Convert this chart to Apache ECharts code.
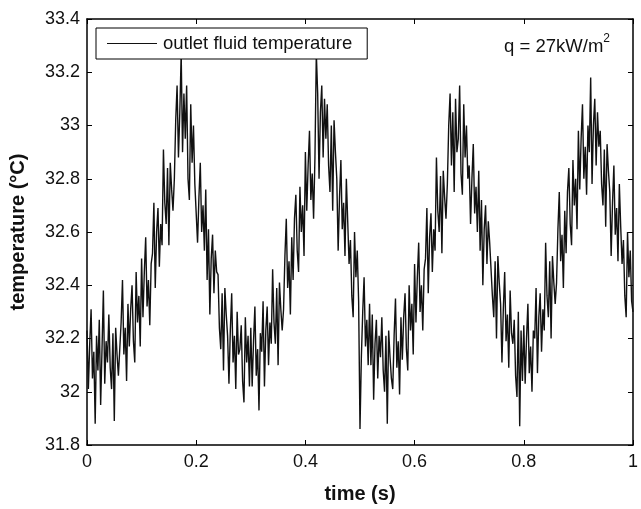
<!DOCTYPE html>
<html>
<head>
<meta charset="utf-8">
<script src="https://cdn.jsdelivr.net/npm/echarts@6/dist/echarts.min.js"></script>
<style>html,body{margin:0;padding:0;background:#fff}#c{width:641px;height:509px}</style>
</head>
<body>
<div id="c"></div>
<script>
const seriesName = 'outlet fluid temperature';
const sampleInterval = 0.0025; // s
const xTicks = [0, 0.2, 0.4, 0.6, 0.8, 1];
const yTicks = [31.8, 32, 32.2, 32.4, 32.6, 32.8, 33, 33.2, 33.4];
const temperature = [
  32.23, 32.01, 32.18, 32.31, 32.05, 32.15, 31.88, 32.21,
  32.08, 32.27, 31.95, 32.16, 32.38, 32.03, 32.19, 32.11,
  32.29, 32.09, 32.01, 32.22, 31.89, 32.24, 32.14, 32.06,
  32.06, 32.26, 32.42, 32.14, 32.24, 32.04, 32.33, 32.17,
  32.31, 32.40, 32.19, 32.11, 32.45, 32.26, 32.36, 32.17,
  32.50, 32.28, 32.45, 32.58, 32.32, 32.42, 32.25, 32.48,
  32.52, 32.71, 32.39, 32.60, 32.69, 32.47, 32.63, 32.55,
  32.91, 32.71, 32.63, 32.84, 32.55, 32.86, 32.76, 32.68,
  32.80, 33.02, 33.15, 32.88, 33.05, 33.27, 32.90, 33.12,
  32.95, 33.15, 32.80, 32.72, 33.08, 32.86, 33.00, 32.78,
  32.78, 32.56, 32.73, 32.86, 32.60, 32.70, 32.53, 32.76,
  32.42, 32.61, 32.29, 32.50, 32.59, 32.37, 32.53, 32.45,
  32.44, 32.24, 32.16, 32.37, 32.08, 32.39, 32.29, 32.21,
  32.03, 32.23, 32.37, 32.11, 32.21, 32.01, 32.30, 32.14,
  32.16, 32.25, 32.04, 31.96, 32.28, 32.11, 32.21, 32.02,
  32.24, 32.02, 32.19, 32.32, 32.06, 32.16, 31.93, 32.22,
  32.15, 32.34, 32.02, 32.23, 32.32, 32.10, 32.26, 32.18,
  32.46, 32.26, 32.18, 32.39, 32.10, 32.41, 32.31, 32.23,
  32.31, 32.51, 32.65, 32.39, 32.49, 32.29, 32.58, 32.42,
  32.65, 32.74, 32.53, 32.45, 32.77, 32.60, 32.70, 32.51,
  32.90, 32.68, 32.85, 32.98, 32.72, 32.82, 32.65, 32.88,
  33.27, 33.12, 32.80, 33.05, 33.15, 32.88, 33.10, 32.95,
  33.08, 32.85, 32.75, 33.00, 32.68, 33.02, 32.90, 32.80,
  32.53, 32.73, 32.87, 32.61, 32.71, 32.51, 32.80, 32.64,
  32.48, 32.57, 32.36, 32.28, 32.60, 32.43, 32.53, 32.34,
  31.86, 32.13, 32.30, 32.43, 32.17, 32.27, 32.10, 32.33,
  32.10, 32.29, 31.97, 32.18, 32.27, 32.05, 32.21, 32.13,
  32.28, 32.08, 32.00, 32.21, 31.88, 32.23, 32.13, 32.05,
  32.01, 32.21, 32.35, 32.09, 32.19, 31.99, 32.28, 32.12,
  32.28, 32.37, 32.16, 32.08, 32.40, 32.23, 32.33, 32.14,
  32.48, 32.26, 32.43, 32.56, 32.30, 32.40, 32.23, 32.46,
  32.50, 32.69, 32.37, 32.58, 32.67, 32.45, 32.61, 32.53,
  32.88, 32.68, 32.60, 32.81, 32.52, 32.83, 32.73, 32.65,
  32.78, 33.00, 33.12, 32.85, 33.05, 32.75, 33.10, 32.90,
  32.95, 33.15, 32.82, 32.74, 33.08, 32.88, 33.00, 32.80,
  32.85, 32.63, 32.80, 32.93, 32.67, 32.77, 32.60, 32.83,
  32.53, 32.72, 32.40, 32.61, 32.70, 32.48, 32.64, 32.56,
  32.56, 32.36, 32.28, 32.49, 32.20, 32.51, 32.41, 32.33,
  32.11, 32.31, 32.45, 32.19, 32.29, 32.09, 32.38, 32.22,
  32.18, 32.27, 32.06, 31.98, 32.30, 31.87, 32.23, 32.04,
  32.25, 32.03, 32.20, 32.33, 32.07, 32.17, 32.00, 32.23,
  32.20, 32.39, 32.07, 32.28, 32.37, 32.15, 32.31, 32.23,
  32.56, 32.36, 32.28, 32.49, 32.20, 32.51, 32.41, 32.33,
  32.41, 32.61, 32.75, 32.49, 32.59, 32.39, 32.68, 32.52,
  32.75, 32.84, 32.63, 32.55, 32.87, 32.70, 32.80, 32.61,
  32.98, 32.76, 32.95, 33.08, 32.80, 32.92, 32.74, 33.00,
  32.90, 33.18, 32.78, 33.00, 33.10, 32.85, 33.05, 32.92,
  32.98, 32.78, 32.70, 32.91, 32.62, 32.93, 32.83, 32.75,
  32.51, 32.71, 32.85, 32.59, 32.69, 32.49, 32.78, 32.62,
  32.48, 32.57, 32.36, 32.28, 32.60, 32.43, 32.53, 32.34,
  32.30
];
const annotation = 'q = 27kW/m';
const annotationSup = '2';

const points = temperature.map((v, i) => [+(i * sampleInterval).toFixed(4), v]);
const FONT = 'Liberation Sans, Arial, Helvetica, sans-serif';
const axisCommon = {
  axisLine: { show: true, onZero: false, lineStyle: { color: '#000', width: 1.5 } },
  axisTick: { show: true, inside: true, length: 5, lineStyle: { color: '#000', width: 1 } },
  splitLine: { show: false }
};
const chart = echarts.init(document.getElementById('c'), null, { renderer: 'canvas' });
chart.setOption({
  animation: false,
  backgroundColor: '#fff',
  grid: { left: 87, right: 4, top: 19, bottom: 57, containLabel: false },
  legend: {
    data: [{ name: seriesName, icon: 'rect' }],
    left: 96, top: 28,
    orient: 'horizontal',
    backgroundColor: '#fff',
    borderColor: '#000', borderWidth: 1, borderRadius: 0,
    padding: [6, 15, 6, 11],
    itemWidth: 50, itemHeight: 1, itemGap: 8,
    itemStyle: { color: '#111', borderWidth: 0 },
    textStyle: { fontFamily: FONT, fontSize: 18.5, color: '#111', padding: [0, 0, 0, 1] }
  },
  title: {
    text: '{a|' + annotation + '}{s|' + annotationSup + '}',
    right: 26, top: 28,
    textStyle: {
      rich: {
        a: { fontFamily: FONT, fontSize: 18.5, fontWeight: 'normal', color: '#111' },
        s: { fontFamily: FONT, fontSize: 12, fontWeight: 'normal', color: '#111', padding: [0, 0, 15, 0] }
      }
    }
  },
  xAxis: [
    Object.assign({
      type: 'value', min: xTicks[0], max: xTicks[xTicks.length - 1], interval: 0.2,
      position: 'bottom',
      name: 'time (s)', nameLocation: 'middle', nameGap: 39,
      nameTextStyle: { fontFamily: FONT, fontSize: 20, fontWeight: 'bold', color: '#111' },
      axisLabel: { show: true, margin: 8, fontFamily: FONT, fontSize: 18, color: '#111',
        formatter: v => String(+v.toFixed(1)) }
    }, axisCommon),
    Object.assign({
      type: 'value', min: xTicks[0], max: xTicks[xTicks.length - 1], interval: 0.2,
      position: 'top', axisLabel: { show: false }
    }, axisCommon)
  ],
  yAxis: [
    Object.assign({
      type: 'value', min: yTicks[0], max: yTicks[yTicks.length - 1], interval: 0.2,
      position: 'left',
      name: 'temperature (°C)', nameLocation: 'middle', nameGap: 59,
      nameTextStyle: { fontFamily: FONT, fontSize: 20, fontWeight: 'bold', color: '#111' },
      axisLabel: { show: true, margin: 7, fontFamily: FONT, fontSize: 18, color: '#111',
        formatter: v => String(+v.toFixed(1)) }
    }, axisCommon),
    Object.assign({
      type: 'value', min: yTicks[0], max: yTicks[yTicks.length - 1], interval: 0.2,
      position: 'right', axisLabel: { show: false }
    }, axisCommon)
  ],
  series: [{
    name: seriesName,
    type: 'line',
    data: points,
    symbol: 'none',
    showSymbol: false,
    lineStyle: { color: '#111', width: 1.4 },
    itemStyle: { color: '#111' },
    z: 1
  }]
});
</script>
</body>
</html>
